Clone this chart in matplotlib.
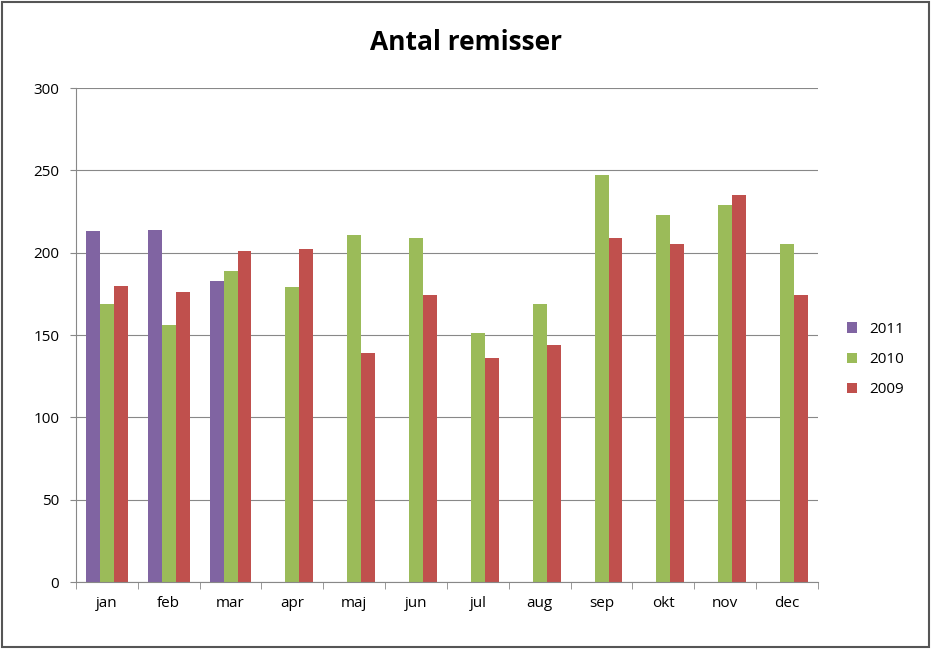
import matplotlib
matplotlib.use("Agg")
import matplotlib.pyplot as plt
import numpy as np

months = ["jan","feb","mar","apr","maj","jun","jul","aug","sep","okt","nov","dec"]
s2011 = [213, 214, 183]
s2010 = [169, 156, 189, 179, 211, 209, 151, 169, 247, 223, 229, 205]
s2009 = [180, 176, 201, 202, 139, 174, 136, 144, 209, 205, 235, 174]
yticks = [0, 50, 100, 150, 200, 250, 300]

plt.rcParams["font.family"] = "Open Sans"
fig = plt.figure(figsize=(9.31, 6.49), dpi=100)
fig.patches.append(plt.Rectangle((0.002, 0.003), 0.996, 0.994, transform=fig.transFigure,
                                 fill=False, edgecolor="#555555", linewidth=1.5))
ax = fig.add_axes([0.0816, 0.1032, 0.797, 0.7612])
x = np.arange(len(months))
w = 0.225
ax.bar(x[:len(s2011)] - w, s2011, w, color="#8064A2", label="2011")
ax.bar(x, s2010, w, color="#9BBB59", label="2010")
ax.bar(x + w, s2009, w, color="#C0504D", label="2009")
ax.set_xlim(-0.5, 11.5)
ax.set_ylim(0, 300)
ax.set_yticks(yticks)
ax.set_xticks(x)
ax.set_xticklabels(months)
ax.grid(axis="y", color="#888888", linewidth=0.8)
ax.set_axisbelow(True)
for s in ["top", "right"]:
    ax.spines[s].set_visible(False)
for s in ["left", "bottom"]:
    ax.spines[s].set_color("#888888")
ax.tick_params(axis="y", length=4, labelsize=11, color="#888888", pad=8)
ax.tick_params(axis="x", length=0, labelsize=11, pad=10)
ax.set_xticks(np.arange(-0.5, 12, 1), minor=True)
ax.tick_params(axis="x", which="minor", length=5, color="#888888")
fig.text(0.50, 0.935, "Antal remisser", ha="center", va="center", fontsize=19, fontweight="bold")
ax.legend(loc="center left", bbox_to_anchor=(1.02, 0.45), frameon=False, fontsize=11,
          handlelength=0.7, handleheight=0.7, labelspacing=1.0)
fig.savefig("out.png", dpi=100)
